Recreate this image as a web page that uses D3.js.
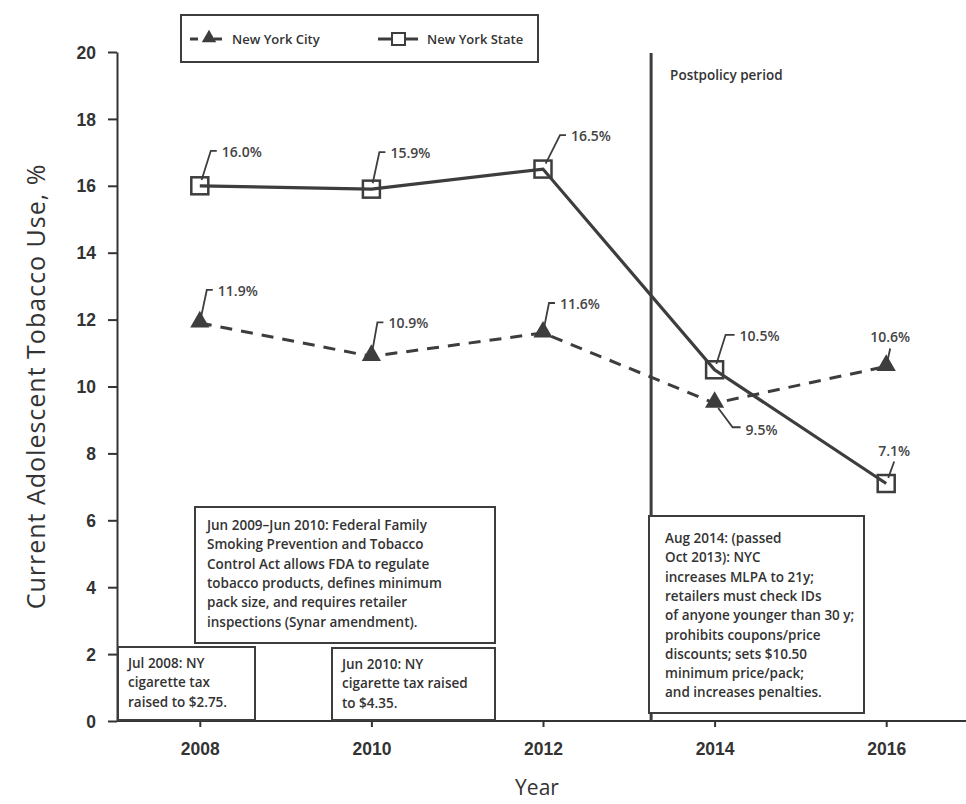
<!DOCTYPE html>
<html>
<head>
<meta charset="utf-8">
<script src="https://cdn.jsdelivr.net/npm/d3@7"></script>
<style>
  body { margin: 0; background: #fff; }
  svg { font-family: "Open Sans", sans-serif; }
  .axis text { font-size: 17.5px; font-weight: 600; fill: #333; }
  .axis path, .axis line { stroke: #333; stroke-width: 2px; }
  .note { font-size: 13.5px; font-weight: 600; fill: #333; }
</style>
</head>
<body>
<div id="chart"></div>
<script>
const years = [2008, 2010, 2012, 2014, 2016];
const nycValues = [11.9, 10.9, 11.6, 9.5, 10.6];
const nysValues = [16.0, 15.9, 16.5, 10.5, 7.1];
const nycLabels = ["11.9%", "10.9%", "11.6%", "9.5%", "10.6%"];
const nysLabels = ["16.0%", "15.9%", "16.5%", "10.5%", "7.1%"];
const yTicks = [0, 2, 4, 6, 8, 10, 12, 14, 16, 18, 20];
const policyYear = 2013.26;

const notes = [
  { lines: ["Jul 2008: NY", "cigarette tax", "raised to $2.75."] },
  { lines: ["Jun 2010: NY", "cigarette tax raised", "to $4.35."] },
  { lines: ["Jun 2009\u2013Jun 2010: Federal Family", "Smoking Prevention and Tobacco",
            "Control Act allows FDA to regulate", "tobacco products, defines minimum",
            "pack size, and requires retailer", "inspections (Synar amendment)."] },
  { lines: ["Aug 2014: (passed", "Oct 2013): NYC", "increases MLPA to 21y;",
            "retailers must check IDs", "of anyone younger than 30 y;",
            "prohibits coupons/price", "discounts; sets $10.50",
            "minimum price/pack;", "and increases penalties."] }
];

// layout of the annotation boxes: [x0, y0, x1, y1] in px
const noteBoxes = [[118, 647, 255, 720], [332, 648, 495, 720], [195, 507, 495, 643], [649, 516, 864, 713]];

// leader lines for value labels: [dx1, dy1, dxEnd, anchor] relative to the marker
const nysLeader = [[11, -35, 6, "start"], [8, -37, 6, "start"], [17, -34, 6, "start"], [11, -35, 9, "start"], [8, -22, 0, "middle"]];
const nycLeader = [[7, -33, 6, "start"], [6, -34, 6, "start"], [6, -30, 6, "start"], [18, 24, 8, "start"], [4, -18, 0, "middle"]];

const W = 966, H = 804;
const svg = d3.select("#chart").append("svg")
    .attr("width", W)
    .attr("height", H);

const x = d3.scaleLinear().domain([2007, 2017]).range([114, 972]);
const y = d3.scaleLinear().domain([0, 20]).range([721, 52]);

const ink = "#3d3d3d";

// axes
const xAxis = svg.append("g")
    .attr("class", "axis")
    .attr("transform", `translate(0, ${y(0)})`)
    .call(d3.axisBottom(x).tickValues(years).tickFormat(d3.format("d")).tickSize(6).tickPadding(16));
xAxis.select(".domain").remove();
xAxis.append("line")
    .attr("x1", 117).attr("x2", 966)
    .attr("stroke", ink).attr("stroke-width", 2.5);

const yAxis = svg.append("g")
    .attr("class", "axis")
    .attr("transform", "translate(117, 0)")
    .call(d3.axisLeft(y).tickValues(yTicks).tickSize(9).tickPadding(12).tickSizeOuter(0));
yAxis.select(".domain").attr("stroke-width", 2.5);
yAxis.selectAll("text").attr("dy", "0.35em");

svg.append("text")
    .attr("transform", `translate(45, ${y(10)}) rotate(-90)`)
    .attr("text-anchor", "middle")
    .style("font-size", "25px")
    .style("letter-spacing", "1px")
    .attr("fill", "#333")
    .text("Current Adolescent Tobacco Use, %");

svg.append("text")
    .attr("x", 537)
    .attr("y", 795)
    .attr("text-anchor", "middle")
    .style("font-size", "21px")
    .attr("fill", "#333")
    .text("Year");

// postpolicy line
svg.append("line")
    .attr("x1", x(policyYear)).attr("x2", x(policyYear))
    .attr("y1", y(20) + 1).attr("y2", y(0))
    .attr("stroke", ink).attr("stroke-width", 3);
svg.append("text")
    .attr("x", x(policyYear) + 19)
    .attr("y", 80)
    .style("font-size", "13.5px")
    .style("font-weight", 600)
    .attr("fill", "#333")
    .text("Postpolicy period");

// annotation boxes
notes.forEach((n, i) => {
  const b = noteBoxes[i];
  svg.append("rect")
      .attr("x", b[0]).attr("y", b[1])
      .attr("width", b[2] - b[0]).attr("height", b[3] - b[1])
      .attr("fill", "#fff").attr("stroke", ink).attr("stroke-width", 2);
  const t = svg.append("text").attr("class", "note")
      .attr("x", b[0] + (i === 2 ? 12 : i === 3 ? 16 : 10))
      .attr("y", b[1] + (i === 2 ? 23 : i === 3 ? 27 : 21));
  n.lines.forEach((l, j) => {
    t.append("tspan").attr("x", t.attr("x")).attr("dy", j === 0 ? 0 : 19.3).text(l);
  });
});

const nys = years.map((yr, i) => ({ year: yr, value: nysValues[i], label: nysLabels[i], leader: nysLeader[i] }));
const nyc = years.map((yr, i) => ({ year: yr, value: nycValues[i], label: nycLabels[i], leader: nycLeader[i] }));

const line = d3.line()
    .x(d => x(d.year))
    .y(d => y(d.value));

svg.append("path")
    .datum(nyc)
    .attr("d", line)
    .attr("fill", "none")
    .attr("stroke", ink)
    .attr("stroke-width", 3)
    .attr("stroke-dasharray", "12,9");

svg.append("path")
    .datum(nys)
    .attr("d", line)
    .attr("fill", "none")
    .attr("stroke", ink)
    .attr("stroke-width", 3.2);

const tri = d3.symbol().type(d3.symbolTriangle).size(160);

svg.selectAll(".tri")
  .data(nyc)
  .enter()
  .append("path")
    .attr("class", "tri")
    .attr("d", tri)
    .attr("transform", d => `translate(${x(d.year)}, ${y(d.value) - 1})`)
    .attr("fill", ink);

svg.selectAll(".sq")
  .data(nys)
  .enter()
  .append("rect")
    .attr("class", "sq")
    .attr("x", d => x(d.year) - 8.5)
    .attr("y", d => y(d.value) - 8.5)
    .attr("width", 17)
    .attr("height", 17)
    .attr("fill", "none")
    .attr("stroke", ink)
    .attr("stroke-width", 2.5);

// value labels with leader lines
function labels(data) {
  data.forEach(d => {
    const cx = x(d.year), cy = y(d.value);
    const [dx, dy, ex, anchor] = d.leader;
    const r = 6;
    const len = Math.hypot(dx, dy);
    const sx = cx + dx * r / len, sy = cy + dy * r / len;
    svg.append("path")
        .attr("d", `M${sx},${sy}L${cx + dx},${cy + dy}l${ex},0`)
        .attr("fill", "none")
        .attr("stroke", ink)
        .attr("stroke-width", 1.8);
    const tx = anchor === "middle" ? cx + dx : cx + dx + ex + 5;
    const ty = anchor === "middle" ? cy + dy - 6 : cy + dy + (dy > 0 ? 8 : 6);
    svg.append("text")
        .attr("x", tx)
        .attr("y", ty)
        .attr("text-anchor", anchor)
        .style("font-size", "14px")
        .style("font-weight", 600)
        .attr("fill", "#444")
        .text(d.label);
  });
}
labels(nys);
labels(nyc);

// legend
svg.append("rect")
    .attr("x", 181).attr("y", 15)
    .attr("width", 357).attr("height", 47)
    .attr("fill", "#fff").attr("stroke", ink).attr("stroke-width", 2);

const lg = svg.append("g");
lg.append("line").attr("x1", 190).attr("x2", 198).attr("y1", 39).attr("y2", 39)
    .attr("stroke", ink).attr("stroke-width", 3);
lg.append("line").attr("x1", 214).attr("x2", 222).attr("y1", 39).attr("y2", 39)
    .attr("stroke", ink).attr("stroke-width", 3);
lg.append("path").attr("d", d3.symbol().type(d3.symbolTriangle).size(90))
    .attr("transform", "translate(209, 38)").attr("fill", ink);
lg.append("text").attr("x", 232).attr("y", 44).style("font-size", "13px").style("font-weight", 600)
    .attr("fill", "#333").text("New York City");

lg.append("line").attr("x1", 378).attr("x2", 418).attr("y1", 39).attr("y2", 39)
    .attr("stroke", ink).attr("stroke-width", 3);
lg.append("rect").attr("x", 392).attr("y", 33).attr("width", 13).attr("height", 12)
    .attr("fill", "#fff").attr("stroke", ink).attr("stroke-width", 2);
lg.append("text").attr("x", 427).attr("y", 44).style("font-size", "13px").style("font-weight", 600)
    .attr("fill", "#333").text("New York State");
</script>
</body>
</html>
